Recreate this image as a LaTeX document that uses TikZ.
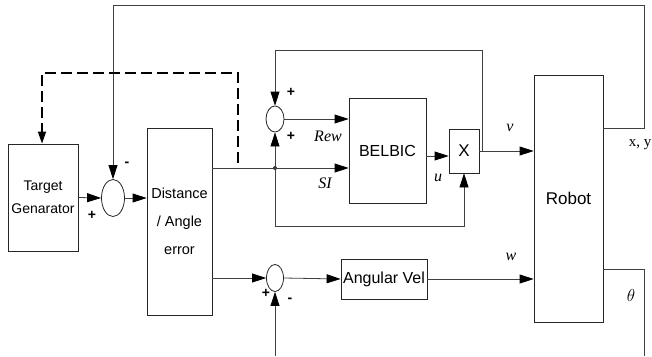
\documentclass[tikz,border=0pt]{standalone}
\usepackage{fontspec}
\setmainfont{Liberation Sans}
\newfontfamily\tmsfont{Liberation Serif}
\usetikzlibrary{arrows.meta,shapes.geometric,positioning}
\tikzset{
  blk/.style={draw=black!85, line width=0.8pt, rectangle, align=center, inner sep=0pt},
  sumj/.style={draw=black!85, line width=0.8pt, ellipse, inner sep=0pt},
  wire/.style={draw=black!75, line width=0.8pt},
  arr/.style={wire, -{Triangle[length=14pt,width=9pt,color=black]}},
  dsh/.style={line width=1.6pt, dash pattern=on 11pt off 5pt, -{Triangle[length=12pt,width=8pt]}},
  sgn/.style={font=\fontsize{14}{14}\selectfont\bfseries, inner sep=0pt},
  lbl/.style={font=\tmsfont\itshape\fontsize{16}{16}\selectfont, inner sep=0pt}
}
\begin{document}
\begin{tikzpicture}[x=1pt,y=-1pt]
  \useasboundingbox (0,0) rectangle (652,356);

  %% blocks
  \node[blk, minimum width=70pt, minimum height=107pt,
        font=\fontsize{14}{23}\selectfont] (tgt) at (43,197.5) {Target\\Genarator};
  \node[blk, minimum width=65pt, minimum height=187pt,
        font=\fontsize{14.5}{28}\selectfont] (dist) at (179.5,221.5) {Distance\\/ Angle\\error};
  \node[blk, minimum width=77pt, minimum height=105pt,
        font=\fontsize{16}{16}\selectfont] (bel) at (387.5,150.5) {BELBIC};
  \node[blk, minimum width=30pt, minimum height=44pt,
        font=\fontsize{17}{17}\selectfont] (xb) at (464,151) {X};
  \node[blk, minimum width=69pt, minimum height=247pt,
        font=\fontsize{17}{17}\selectfont] (rob) at (568.5,198.5) {Robot};
  \node[blk, minimum width=86pt, minimum height=40pt,
        font=\fontsize{16}{16}\selectfont] (ang) at (384,279) {Angular Vel};

  %% summing junctions
  \node[sumj, minimum width=23pt, minimum height=37pt] (s1) at (113,198) {};
  \node[sumj, minimum width=18pt, minimum height=26pt] (s2) at (275,119) {};
  \node[sumj, minimum width=17pt, minimum height=27pt] (s3) at (275,278) {};

  \coordinate (J) at (275,168);
  \coordinate (vfb) at (482,151);
  \coordinate (thin) at (275,356);
  \fill[black!80] (J) circle (2pt);

  %% main path
  \draw[arr] (tgt.east) -- (s1.west);
  \draw[arr] (s1.east) -- (dist.west |- s1.east);
  \draw[arr] (dist.east |- J) -- (bel.west |- J);
  \draw[arr] (J) -- (s2.south);
  \draw[arr] (s2.east) -- (bel.west |- s2.east);
  \draw[arr] (bel.east |- 0,156) -- (xb.west |- 0,156);
  \draw[arr] (J) -- (275,226) -- (xb.south |- 0,226) -- (xb.south);
  \draw[arr] (xb.east) -- (rob.west |- xb.east);
  \draw[arr] (vfb) -- (482,50) -- (275,50) -- (s2.north);

  %% lower path
  \draw[arr] (dist.east |- s3.west) -- (s3.west);
  \draw[arr] (s3.east) -- (ang.west);
  \draw[arr] (ang.east) -- (rob.west |- ang.east);
  \draw[arr] (thin) -- (s3.south);

  %% robot outputs
  \draw[arr] (rob.east |- 0,128) -- (644,128) -- (644,5) -- (113,5) -- (s1.north);
  \draw[wire] (rob.east |- 0,269) -- (644,269) -- (644,356);

  %% dashed link
  \draw[dsh] (238,163) -- (238,73) -- (42,73) -- (tgt.north -| 42,0);

  %% signs
  \node[sgn] at (127,164) {-};
  \node[sgn] at (92,215) {+};
  \node[sgn] at (291,92) {+};
  \node[sgn] at (291,136) {+};
  \node[sgn] at (266,293) {+};
  \node[sgn] at (290,300) {-};

  %% signal labels
  \node[lbl] at (328,136) {Rew};
  \node[lbl] at (325,183) {SI};
  \node[lbl] at (438,178) {u};
  \node[lbl] at (510,128) {v};
  \node[lbl] at (511,257) {w};
  \node[lbl] at (631,295) {$\theta$};
  \node[lbl, font=\tmsfont\fontsize{15}{15}\selectfont, anchor=east] at (651.5,145) {x, y};
\end{tikzpicture}
\end{document}
